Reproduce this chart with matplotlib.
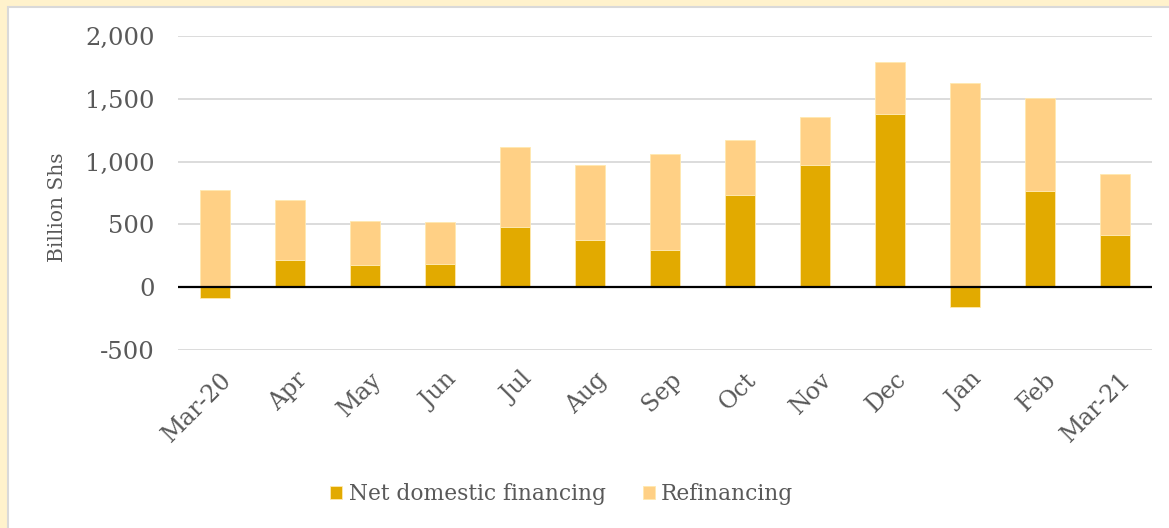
import matplotlib.pyplot as plt
from matplotlib.patches import Rectangle
from matplotlib.transforms import ScaledTranslation
import numpy as np

months = ['Mar-20', 'Apr', 'May', 'Jun', 'Jul', 'Aug', 'Sep',
          'Oct', 'Nov', 'Dec', 'Jan', 'Feb', 'Mar-21']
net_domestic = [-85, 220, 175, 186, 483, 372, 297, 738, 970, 1382, -157, 762, 417]
refinancing = [773, 476, 356, 335, 636, 598, 760, 431, 388, 408, 1625, 744, 481]

c_net = '#E2AA00'
c_refi = '#FFD085'
txt = '#595959'

plt.rcParams['font.family'] = 'DejaVu Serif'

fig = plt.figure(figsize=(11.69, 5.28), dpi=100)
fig.patch.set_facecolor('#FFF2CC')
# white chart area with grey frame (drawn below the axes)
fig.add_artist(Rectangle((8 / 1169, -0.1), 1.2, 1 - 7 / 528 + 0.1,
                         transform=fig.transFigure, facecolor='white',
                         edgecolor='#D9D9D9', linewidth=1.5, zorder=-5))

ax = fig.add_axes([178 / 1169, 1 - 350 / 528, (1152 - 178) / 1169, (350 - 36) / 528])
ax.set_facecolor('none')

x = np.arange(len(months))
net = np.array(net_domestic)
refi = np.array(refinancing)
# Excel-style stacking: positive parts start at 0, negatives go below
refi_bottom = np.where(net > 0, net, 0)

ax.bar(x, net, width=0.4, color=c_net, edgecolor='#FFE9B0', linewidth=0.6,
       label='Net domestic financing', zorder=3)
ax.bar(x, refi, bottom=refi_bottom, width=0.4, color=c_refi, edgecolor='#FFE9B0',
       linewidth=0.6, label='Refinancing', zorder=3)

ax.set_xlim(-0.5, len(months) - 0.5)
ax.set_ylim(-500, 2000)
ax.set_yticks(range(-500, 2001, 500))
ax.set_yticklabels([f'{v:,}' for v in range(-500, 2001, 500)])
ax.grid(axis='y', color='#D9D9D9', linewidth=1.3, zorder=0)
ax.axhline(0, color='black', linewidth=1.6, zorder=4)
for s in ax.spines.values():
    s.set_visible(False)
ax.tick_params(axis='both', length=0, labelcolor=txt)
ax.tick_params(axis='y', labelsize=17.5, pad=17)
ax.set_xticks(x)
ax.set_xticklabels(months, rotation=45, ha='right', rotation_mode='anchor')
ax.tick_params(axis='x', labelsize=17, pad=13)
shift = ScaledTranslation(5 / 100, 0, fig.dpi_scale_trans)
for lbl in ax.get_xticklabels():
    lbl.set_transform(lbl.get_transform() + shift)

ax.set_ylabel('Billion Shs', fontsize=14.5, color=txt)
ax.yaxis.set_label_coords(-0.114, 0.455)

leg = ax.legend(loc='center', bbox_to_anchor=(0.394, -0.458), ncol=2, frameon=False,
                fontsize=15.7, handlelength=0.55, handleheight=0.55, handletextpad=0.28,
                columnspacing=1.7)
for t in leg.get_texts():
    t.set_color(txt)

fig.savefig('out.png', dpi=100, facecolor=fig.get_facecolor())
